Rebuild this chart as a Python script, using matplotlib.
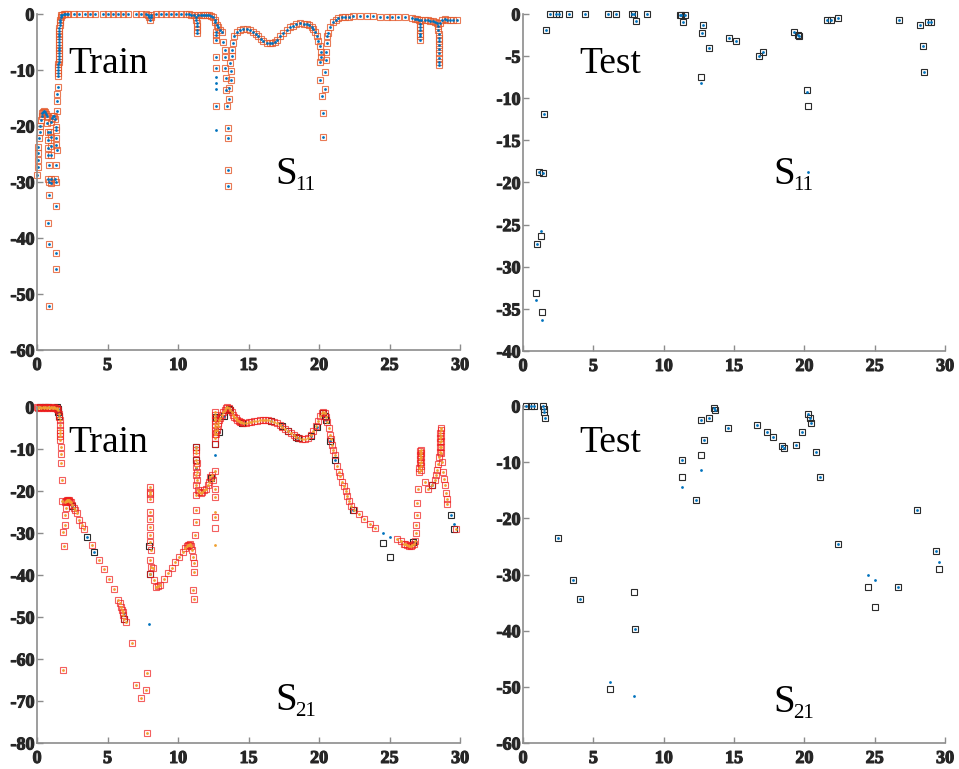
import numpy as np
import matplotlib
matplotlib.use("Agg")
import matplotlib.pyplot as plt
import matplotlib.patheffects as pe
from matplotlib.transforms import offset_copy
from matplotlib.font_manager import FontProperties

plt.rcParams['font.family'] = 'Liberation Serif'
plt.rcParams['axes.unicode_minus'] = False

# ---- S11 train (squares = target, dots = prediction at the same place)
s11_train_x = [
    0.02, 0.04, 0.06, 0.08, 0.10, 0.14, 0.18, 0.22, 0.28,
    0.32, 0.38, 0.44, 0.50, 0.56, 0.62, 0.68,
    0.74, 0.76, 0.78, 0.80, 0.80, 0.83, 0.80, 0.88, 0.83, 0.80, 0.85, 0.83,
    0.95, 0.98, 1.00, 1.00, 0.98, 1.02,
    1.02, 1.08, 1.14, 1.20, 1.26,
    1.32, 1.38, 1.36, 1.34, 1.40, 1.35, 1.30, 1.38, 1.35, 1.35, 1.32,
    1.44, 1.44, 1.45, 1.47, 1.50,
    1.51, 1.51, 1.52, 1.52, 1.53, 1.53, 1.53, 1.54, 1.54, 1.55, 1.55, 1.55, 1.56, 1.56, 1.57, 1.58, 1.59, 1.60, 1.62, 1.64, 1.67,
    1.72, 1.80, 1.90, 2.00, 2.10,
    2.20, 2.60, 2.98, 3.38, 3.74, 4.09, 4.68, 5.04, 5.39, 5.75, 6.10, 6.46, 7.05, 7.40, 7.76, 7.85, 7.95, 8.00, 8.05, 8.11,
    8.47, 8.82, 9.18, 9.53, 9.89, 10.24, 10.60, 10.80, 10.95, 11.10,
    11.30, 11.30, 11.32, 11.32, 11.33, 11.33,
    11.45, 11.60, 11.75, 11.90, 12.05, 12.20, 12.35, 12.50, 12.60, 12.65, 12.74, 12.85, 12.98, 13.14,
    12.69, 12.69, 12.69, 12.69, 12.69, 12.69,
    13.22, 13.30, 13.33, 13.33, 13.40, 13.40, 13.45, 13.52, 13.57, 13.52, 13.57,
    13.64, 13.64, 13.73, 13.73, 13.70, 13.81, 13.81, 13.88, 14.00, 14.16,
    14.40, 14.60, 14.87, 15.10, 15.34, 15.50, 15.70, 15.90, 16.05, 16.30, 16.50, 16.70, 16.88, 17.05, 17.23, 17.45,
    17.70, 17.95, 18.18, 18.40, 18.65, 18.90, 19.13, 19.30, 19.48, 19.60, 19.70, 19.83, 19.95, 20.07, 20.12, 20.15,
    20.05, 20.10, 20.18, 20.25, 20.25, 20.42, 20.42, 20.46, 20.50, 20.53, 20.60, 20.66, 20.78, 21.00, 21.20, 21.37,
    21.60, 21.85, 22.10, 22.43, 22.90, 23.40, 23.85, 24.30, 24.80, 25.15, 25.60, 26.10, 26.57, 26.80, 26.93,
    27.10, 27.15, 27.16, 27.16, 27.16, 27.18, 27.18, 27.25, 27.50, 27.70, 27.90, 28.05, 28.20, 28.35,
    28.45, 28.47, 28.50, 28.50, 28.50, 28.52, 28.52, 28.50, 28.50, 28.50, 28.50, 28.60, 28.75, 28.94, 29.10, 29.30, 29.50, 29.77,
]
s11_train_y = [
    -28.7, -27.3, -26.1, -24.9, -23.7, -22.2, -21.0, -20.0, -18.9,
    -18.2, -17.7, -17.5, -17.4, -17.5, -17.8, -18.3,
    -19.5, -21.0, -22.5, -23.9, -25.2, -26.9, -29.4, -30.0, -32.3, -37.4, -41.1, -52.1,
    -21.0, -22.0, -23.6, -25.1, -29.4, -30.1,
    -19.2, -18.5, -18.2, -18.3, -18.8,
    -20.1, -20.8, -22.2, -23.4, -24.3, -26.9, -29.4, -30.0, -34.3, -42.6, -45.6,
    -17.3, -15.6, -14.3, -13.1, -11.1,
    -10.5, -10.0, -9.5, -9.0, -8.5, -8.0, -7.5, -7.0, -6.5, -6.0, -5.5, -5.0, -4.5, -4.0, -3.5, -3.0, -2.5, -2.0, -1.5, -1.0, -0.5,
    -0.2, -0.1, 0.0, 0.0, 0.0,
    0.0, 0.0, 0.0, 0.0, 0.0, 0.0, 0.0, 0.0, 0.0, 0.0, 0.0, 0.0, 0.0, 0.0, 0.0, -0.2, -0.5, -1.1, -0.5, -0.1,
    0.0, 0.0, 0.0, 0.0, 0.0, 0.0, 0.0, -0.05, -0.1, -0.1,
    -0.5, -1.0, -1.6, -2.2, -2.8, -3.4,
    -0.1, -0.1, -0.15, -0.15, -0.2, -0.25, -0.3, -0.5, -1.0, -1.5, -2.0, -2.4, -2.9, -3.3,
    -3.2, -3.75, -4.6, -7.6, -9.7, -16.5,
    -5.06, -6.4, -7.6, -9.7, -11.5, -13.6, -16.4, -20.4, -22.1, -27.9, -30.8,
    -15.1, -13.3, -11.7, -10.1, -8.8, -7.5, -6.4, -5.2, -4.0, -3.3,
    -2.9, -2.75, -2.7, -2.9, -3.2, -3.5, -3.9, -4.4, -4.8, -5.1, -5.2, -5.2, -5.06, -4.6, -4.0, -3.4,
    -2.9, -2.4, -2.1, -1.85, -1.67, -1.7, -1.8, -2.0, -2.3, -2.7, -3.2, -4.0, -4.9, -5.8, -6.7, -7.6,
    -8.5, -11.7, -14.7, -17.6, -21.9, -13.4, -10.3, -8.3, -6.7, -5.2, -4.0, -3.45, -2.3, -1.4, -1.0, -0.8,
    -0.6, -0.5, -0.45, -0.4, -0.4, -0.4, -0.4, -0.5, -0.5, -0.6, -0.6, -0.6, -0.8, -0.85, -0.9,
    -1.1, -1.7, -2.3, -2.9, -3.5, -4.0, -4.6, -1.1, -1.1, -1.15, -1.2, -1.3, -1.4, -1.6,
    -2.2, -2.9, -3.5, -4.2, -4.9, -5.6, -6.3, -7.0, -7.8, -8.5, -9.1, -1.6, -1.1, -0.95, -1.0, -1.1, -1.1, -1.1,
]
# predictions with no matching square
s11_train_dot_x = [12.69, 12.69, 12.69, 12.69]
s11_train_dot_y = [-11.2, -12.4, -13.4, -20.7]

# ---- S11 test
s11_test_x = [0.95, 0.99, 1.11, 1.30, 1.35, 1.42, 1.47, 1.61, 1.94, 2.37, 2.53, 3.24, 4.38, 6.01, 6.63,
              7.74, 7.90, 8.03, 8.81, 11.13, 11.25, 11.34, 11.48, 12.67, 12.72, 12.79, 13.19, 14.63, 15.15, 16.77,
              17.03, 19.28, 19.58, 19.65, 20.18, 20.29, 21.64, 21.90, 22.42, 26.73, 28.23, 28.46, 28.53, 28.82, 28.98]
s11_test_y = [-33.1, -27.3, -18.8, -26.4, -35.4, -18.9, -11.9, -1.9, 0, 0, 0, 0, 0, 0, 0,
              0, 0, -0.8, 0, -0.1, -0.1, -1.0, -0.15, -7.5, -2.2, -1.35, -4.0, -2.8, -3.2, -5.0,
              -4.5, -2.1, -2.45, -2.65, -9.0, -10.9, -0.7, -0.7, -0.5, -0.7, -1.3, -3.8, -6.9, -0.9, -0.9]
s11_test_pred = [-33.9, -27.3, -18.8, -25.8, -36.3, -18.9, -11.9, -1.9, 0, 0, 0, 0, 0, 0, 0,
                 0, 0, -0.8, 0, -0.1, -0.1, -1.0, -0.15, -8.2, -2.2, -1.35, -4.0, -2.8, -3.2, -5.0,
                 -4.5, -2.1, -2.45, -2.65, -9.3, -18.8, -0.7, -0.7, -0.5, -0.7, -1.3, -3.8, -6.9, -0.9, -0.9]

# ---- S21 train
s21_train_x = [
    0.0, 0.1, 0.2, 0.3, 0.4, 0.5, 0.6, 0.7, 0.8, 0.9, 1.0, 1.1, 1.2, 1.3, 1.4,
    1.45, 1.50, 1.55, 1.58, 1.60, 1.62, 1.63, 1.64, 1.65, 1.66, 1.67, 1.68, 1.70, 1.75, 1.80, 1.87, 1.94, 1.87, 1.96, 1.99, 2.06,
    2.00, 2.05, 2.10, 2.15, 2.20, 2.25, 2.30, 2.35, 2.40, 2.50, 2.60, 2.70, 2.81, 3.00, 3.16, 3.33, 3.88, 4.42,
    4.78, 5.11, 5.49, 5.77, 5.89, 5.96, 6.00, 6.07, 6.13, 6.20, 6.30, 6.71, 7.02, 7.37, 7.73, 7.82, 7.78,
    8.00, 8.02, 8.00, 8.03, 8.03, 8.03, 8.03, 8.03, 8.02, 8.05, 8.02, 8.10, 7.98,
    8.20, 8.30, 8.44, 8.60, 8.73, 9.03, 9.27, 9.56, 9.80, 10.10, 10.34, 10.53, 10.62, 10.70, 10.78, 10.86,
    10.95, 11.00, 11.05, 11.10, 11.12, 11.05, 11.12,
    11.28, 11.30, 11.28, 11.28, 11.32, 11.30, 11.35, 11.30, 11.35, 11.30, 11.40, 11.25, 11.25, 11.25, 11.22,
    11.50, 11.60, 11.70, 11.85, 11.96, 12.10, 12.20, 12.30, 12.40, 12.50,
    12.60, 12.60, 12.60, 12.60, 12.62, 12.62, 12.62, 12.65, 12.65, 12.60, 12.60, 12.60, 12.60,
    12.70, 12.75, 12.80, 12.85, 12.90, 13.00, 13.10, 13.20, 13.30, 13.40, 13.50, 13.60, 13.70, 13.80, 13.90,
    14.00, 14.10, 14.20, 14.30, 14.40, 14.50, 14.60, 14.80, 15.00, 15.20, 15.40, 15.60, 15.80, 16.00, 16.20,
    16.40, 16.60, 16.80, 17.00, 17.20, 17.40, 17.60, 17.80, 18.00, 18.20, 18.40, 18.60, 18.80, 19.00, 19.20,
    19.40, 19.60, 19.80, 19.95, 20.10, 20.20, 20.30, 20.40, 20.50, 20.60, 20.70, 20.80, 20.85, 20.95, 21.00,
    21.10, 21.25, 21.40, 21.50, 21.60, 21.80, 21.90, 22.00, 22.15, 22.30, 22.45, 22.80, 23.20, 23.60, 24.00,
    25.50, 25.80, 26.00, 26.10, 26.25, 26.40, 26.50, 26.60, 26.70, 26.80, 26.85, 26.90, 26.93, 26.95, 27.00,
    27.10, 27.12, 27.14, 27.16, 27.16, 27.18, 27.20, 27.22, 27.22, 27.22, 27.20, 27.20,
    27.52, 27.75, 27.99, 28.20, 28.30, 28.38, 28.45, 28.50,
    28.55, 28.58, 28.60, 28.60, 28.60, 28.62, 28.65, 28.65, 28.65, 28.67, 28.68,
    28.70, 28.77, 28.87, 28.94, 29.00, 29.05, 29.10, 29.73,
]
s21_train_y = [
    -0.1, -0.2, -0.1, -0.2, -0.1, -0.2, -0.1, -0.2, -0.1, -0.2, -0.1, -0.2, -0.1, -0.2, -0.2,
    -0.4, -0.8, -1.6, -2.4, -3.0, -4.2, -5.4, -6.2, -7.0, -7.8, -9.4, -11.3, -13.3, -17.4, -22.4, -29.7, -33.0, -62.6, -28.1, -25.7, -24.1,
    -22.6, -22.4, -22.3, -22.2, -22.2, -22.2, -22.3, -22.5, -22.7, -23.3, -24.1, -24.6, -25.3, -26.9, -28.0, -29.1, -32.8, -36.4,
    -38.6, -40.9, -43.3, -45.9, -46.7, -47.5, -48.3, -48.9, -49.5, -50.4, -51.3, -56.3, -66.2, -69.4, -67.4, -63.3, -77.6,
    -19.0, -20.2, -20.8, -22.0, -24.9, -26.7, -28.5, -30.5, -32.1, -34.0, -36.4, -38.0, -39.8,
    -38.3, -41.2, -42.9, -42.6, -42.3, -41.0, -39.6, -38.3, -37.0, -35.6, -34.5, -33.5, -33.2, -32.9, -32.8, -32.7,
    -33.0, -34.0, -35.6, -37.2, -39.2, -43.5, -45.7,
    -9.4, -10.2, -11.0, -12.6, -13.4, -14.2, -15.5, -16.2, -17.4, -18.6, -19.8, -21.0, -24.6, -27.3, -30.5,
    -20.2, -20.5, -20.2, -19.8, -19.4, -18.6, -17.8, -16.6, -16.2, -17.4,
    -1.1, -1.8, -2.5, -3.2, -4.0, -4.8, -5.6, -6.5, -7.4, -15.3, -19.4, -21.4, -26.2,
    -6.5, -5.5, -4.5, -3.8, -3.2, -2.6, -2.0, -1.2, -0.6, -0.2, -0.1, -0.2, -0.6, -1.2, -1.8,
    -2.3, -2.7, -3.0, -3.3, -3.5, -3.6, -3.7, -3.7, -3.6, -3.5, -3.4, -3.3, -3.2, -3.2, -3.2,
    -3.2, -3.3, -3.5, -3.8, -4.2, -4.7, -5.2, -5.7, -6.2, -6.7, -7.1, -7.4, -7.6, -7.6, -7.3,
    -6.7, -5.8, -4.6, -3.3, -2.1, -1.5, -1.3, -1.5, -2.3, -3.5, -5.0, -6.6, -7.6, -9.1, -10.3,
    -11.4, -14.0, -15.5, -16.5, -17.8, -18.8, -20.0, -21.2, -22.4, -23.6, -24.6, -25.4, -26.6, -27.8, -28.8,
    -31.5, -32.0, -32.5, -32.7, -32.9, -33.0, -33.0, -32.9, -32.7, -31.8, -30.1, -28.1, -25.7, -22.9, -19.6,
    -15.4, -14.4, -13.4, -12.4, -11.4, -10.4, -10.2, -11.0, -12.0, -13.0, -14.0, -15.0,
    -17.8, -19.4, -18.6, -17.4, -16.2, -15.0, -13.5, -11.9,
    -10.6, -9.5, -8.4, -7.3, -6.2, -5.1, -5.5, -6.8, -8.0, -9.5, -11.0,
    -13.1, -15.5, -17.1, -18.6, -20.4, -21.8, -23.0, -29.0,
]
s21_train_sq_x = [12.62, 12.60]
s21_train_sq_y = [-8.9, -28.8]
s21_train_dot_x = [12.60, 12.60]
s21_train_dot_y = [-25.0, -32.9]

# ---- S21 test
s21_test_x = [0.24, 0.55, 0.75, 1.40, 1.47, 1.52, 1.54, 2.49, 3.55, 4.07, 6.16, 7.91, 7.98, 11.30, 11.30,
              12.31, 12.65, 12.67, 12.88, 13.24, 13.59, 13.66, 14.54, 16.62, 17.38, 17.78, 18.40, 18.52, 19.42, 19.84,
              20.25, 20.41, 20.48, 20.81, 21.12, 22.38, 24.51, 25.03, 26.69, 28.04, 29.34, 29.55]
s21_test_y = [0, 0, 0, 0, -0.5, -1.1, -2.1, -23.5, -30.9, -34.4, -50.4, -33.1, -39.7, -9.55, -12.6,
              -16.8, -8.8, -2.4, -6.05, -2.1, -0.35, -0.65, -3.9, -3.3, -4.6, -5.6, -7.1, -7.4, -6.9, -4.7,
              -1.5, -2.1, -3.1, -8.1, -12.6, -24.5, -32.3, -35.8, -32.2, -18.6, -25.8, -29.1]
s21_test_pred = [0, 0, 0, 0, -0.5, -1.1, -2.1, -23.5, -30.9, -34.4, -49.1, -51.6, -39.7, -9.55, -14.4,
                 -16.8, -11.4, -2.4, -6.05, -2.1, -0.35, -0.65, -3.9, -3.3, -4.6, -5.6, -7.1, -7.4, -6.9, -4.7,
                 -1.5, -2.1, -3.1, -8.1, -12.6, -24.5, -30.0, -30.9, -32.2, -18.6, -25.8, -27.8]

ORANGE = '#E45A2C'
RED = '#EE1C1C'
BLUE = '#0072BD'
GOLD = '#F0A030'
DARK = '#2B2B2B'
AXC = '#8C8C8C'
TICKC = '#262626'
TICK_FONT = FontProperties(family='Liberation Serif', weight='bold', size=13)
HEAVY = [pe.withStroke(linewidth=0.8, foreground=TICKC)]

fig = plt.figure(figsize=(9.59, 7.69), dpi=100)
ax_tl = fig.add_axes([0.0386, 0.5449, 0.4411, 0.4369])
ax_tr = fig.add_axes([0.5454, 0.5436, 0.4400, 0.4382])
ax_bl = fig.add_axes([0.0386, 0.0338, 0.4411, 0.4369])
ax_br = fig.add_axes([0.5454, 0.0338, 0.4400, 0.4382])


def squares(ax, x, y, color, alpha=1.0):
    ax.plot(x, y, ls='none', marker='s', ms=5, mfc='none', mec=color, mew=0.8,
            alpha=alpha, clip_on=False)


def dots(ax, x, y, color):
    ax.plot(x, y, ls='none', marker='o', ms=2.0, mfc=color, mew=0, clip_on=False)


def style(ax, ymin, ystep):
    for s in ['top', 'right']:
        ax.spines[s].set_visible(False)
    for s in ['left', 'bottom']:
        ax.spines[s].set_color(AXC)
        ax.spines[s].set_linewidth(1.2)
    ax.set_xlim(0, 30)
    ax.set_ylim(ymin, 0)
    xt = list(range(0, 31, 5))
    yt = list(range(ymin, 1, ystep))
    ax.set_xticks(xt, [str(t) for t in xt], fontproperties=TICK_FONT)
    ax.set_yticks(yt, [str(t) for t in yt], fontproperties=TICK_FONT)
    ax.tick_params(direction='in', length=4, width=1, color=AXC, labelcolor=TICKC)
    ax.tick_params(axis='x', pad=5)
    ax.tick_params(axis='y', pad=2)
    for lab in ax.get_xticklabels() + ax.get_yticklabels():
        lab.set_path_effects(HEAVY)


def labels(ax, word, wx, wy, sx, sy, sub):
    ax.text(wx, wy, word, fontsize=27, va='baseline', ha='left')
    ax.text(sx, sy, 'S', fontsize=28, va='baseline', ha='left')
    tr = offset_copy(ax.transData, fig=fig, x=14.4, y=-4.3, units='points')
    ax.text(sx, sy, sub, fontsize=15, va='baseline', ha='left', transform=tr)


# top left: S11 train
squares(ax_tl, s11_train_x, s11_train_y, ORANGE, 0.8)
dots(ax_tl, s11_train_x, s11_train_y, BLUE)
dots(ax_tl, s11_train_dot_x, s11_train_dot_y, BLUE)
style(ax_tl, -60, 10)
labels(ax_tl, 'Train', 2.2, -10.5, 16.9, -30.4, '11')

# top right: S11 test
squares(ax_tr, s11_test_x, s11_test_y, DARK)
dots(ax_tr, s11_test_x, s11_test_pred, BLUE)
style(ax_tr, -40, 5)
labels(ax_tr, 'Test', 4.0, -7.0, 17.8, -20.2, '11')

# bottom left: S21 train with test overlaid
squares(ax_bl, s21_test_x, s21_test_y, DARK)
dots(ax_bl, s21_test_x, s21_test_pred, BLUE)
squares(ax_bl, s21_train_x, s21_train_y, RED, 0.7)
squares(ax_bl, s21_train_sq_x, s21_train_sq_y, RED, 0.7)
dots(ax_bl, s21_train_x, s21_train_y, GOLD)
dots(ax_bl, s21_train_dot_x, s21_train_dot_y, GOLD)
style(ax_bl, -80, 10)
labels(ax_bl, 'Train', 2.2, -10.7, 16.9, -72.1, '21')

# bottom right: S21 test
squares(ax_br, s21_test_x, s21_test_y, DARK)
dots(ax_br, s21_test_x, s21_test_pred, BLUE)
style(ax_br, -60, 10)
labels(ax_br, 'Test', 4.0, -8.2, 17.8, -54.5, '21')

fig.savefig('out.png', dpi=100)
